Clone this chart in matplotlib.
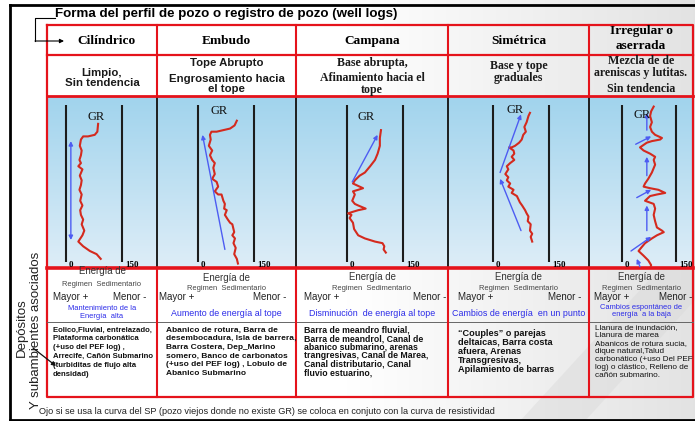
import numpy as np
import matplotlib
matplotlib.use("Agg")
import matplotlib.pyplot as plt
from matplotlib.patches import Polygon

W, H = 695, 421

# ---------------- data ----------------
TITLE = "Forma del perfil de pozo o registro de pozo (well logs)"
SHAPES = ["Cilíndrico", "Embudo", "Campana", "Simétrica", "Irregular o\naserrada"]
GR_MIN, GR_MAX = 0, 150

depth1 = [12, 17, 19, 20, 20, 22, 26, 29, 32, 35, 37, 39, 41, 45, 48, 51, 54, 57, 61, 64,
          67, 70, 73, 76, 80, 83, 87, 90, 93, 95, 98]
gr1 = [86, 84, 77, 59, 46, 40, 37, 42, 40, 36, 40, 33, 44, 37, 42, 40, 36, 42, 38, 44,
       38, 40, 46, 42, 49, 44, 33, 46, 64, 82, 93]

depth2 = [10, 13, 15, 16, 17, 17, 19, 22, 26, 29, 32, 35, 37, 40, 44, 47, 49, 52, 55, 57,
          57, 61, 63, 66, 67, 70, 73, 75, 76, 79, 81, 83, 85, 88, 91, 95, 98, 101]
gr2 = [104, 98, 86, 68, 50, 36, 32, 34, 29, 38, 32, 38, 45, 41, 45, 38, 50, 54, 45, 54,
       63, 68, 72, 70, 77, 72, 80, 86, 92, 95, 97, 92, 99, 95, 101, 97, 104, 107]

depth3 = [16, 21, 26, 31, 35, 39, 43, 45, 48, 50, 51, 53, 54, 55, 57, 61, 63, 64, 66, 67,
          68, 69, 70, 72, 75, 79, 83, 85, 87, 88, 90, 92, 94]
gr3 = [91, 88, 88, 82, 75, 62, 48, 34, 21, 16, 25, 43, 30, 16, 21, 14, 21, 30, 50, 30,
       16, 3, 12, 7, 16, 19, 30, 48, 75, 95, 100, 98, 104]

depth4 = [5, 7, 11, 14, 17, 19, 22, 24, 26, 27, 27, 29, 31, 33, 35, 37, 39, 41, 44, 46,
          48, 50, 52, 54, 56, 58, 62, 64, 67, 69, 71, 74, 76, 80, 82, 84, 87]
gr4 = [99, 95, 90, 84, 88, 81, 77, 70, 59, 50, 43, 55, 57, 50, 57, 46, 37, 41, 33, 41,
       37, 46, 41, 55, 50, 64, 72, 78, 86, 90, 95, 93, 101, 99, 105, 101, 105]

depth5 = [1, 4, 7, 11, 14, 17, 19, 21, 22, 23, 24, 27, 29, 31, 33, 35, 38, 43, 47, 50,
          52, 53, 54, 56, 57, 58, 61, 63, 66, 70, 74, 78, 80, 81, 83, 85, 88, 91, 93, 96,
          99, 102, 104]
gr5 = [88, 81, 78, 83, 78, 83, 92, 111, 106, 83, 69, 50, 60, 78, 92, 88, 92, 83, 73, 64,
       60, 78, 101, 120, 97, 78, 64, 88, 92, 88, 92, 97, 111, 116, 97, 83, 64, 53, 46, 60,
       73, 81, 78]

# blue trend arrows: (gr_tail, depth_tail, gr_head, depth_head)
arrows1 = [(13, 86, 13, 23)]
arrows2 = [(72, 92, 12, 19)]
arrows3 = [(14, 49, 82, 19)]
arrows4 = [(19, 43, 75, 6), (75, 80, 19, 47)]
arrows5 = [(69, 16, 69, 5), (38, 25, 81, 20), (69, 45, 69, 33), (41, 59, 81, 54),
           (69, 80, 69, 64), (25, 93, 81, 84), (50, 103, 41, 98)]

GR_LABEL_POS = [(80, 7.6), (56, 3.6), (50, 7.4), (59, 3.2), (55, 6.4)]

DESCR = [
    [("Limpio,\nSin tendencia", 78, "sans")],
    [("Tope Abrupto", 63, "sans"), ("Engrosamiento hacia\nel tope", 84, "sans")],
    [("Base abrupta,", 63, "serif"), ("Afinamiento hacia el\ntope", 84, "serif")],
    [("Base y tope\ngraduales", 72, "serif")],
    [("Mezcla de de\nareniscas y lutitas.", 67, "serif"), ("Sin tendencia", 89, "serif")],
]

ENERGY_CAPTIONS = ["Mantenimiento de la\nEnergía  alta", "Aumento de energía al tope",
                   "Disminución  de energía al tope", "Cambios de energía  en un punto",
                   "Cambios espontáneo de\nenergía  a la baja"]

DEPOSITS = [
    ["Eolico,Fluvial, entrelazado,", "Plataforma carbonática", "(+uso del PEF log) ,",
     "Arrecife, Cañón Submarino", "(turbiditas de flujo alta", "densidad)"],
    ["Abanico de rotura, Barra de", "desembocadura, Isla de barrera,",
     "Barra Costera, Dep_Marino", "somero, Banco de carbonatos",
     "(+uso del PEF log) , Lobulo de", "Abanico Submarino"],
    ["Barra de meandro fluvial,", "Barra de meandrol, Canal de",
     "abanico submarino, arenas", "trangresivas, Canal de Marea,",
     "Canal distributario, Canal", "fluvio estuarino,"],
    ["\u201cCouples\u201d o parejas", "deltaicas, Barra costa", "afuera, Arenas",
     "Transgresivas,", "Apilamiento de barras"],
    ["Llanura de inundación,", "Llanura de marea", "Abanicos de rotura sucia,",
     "dique natural,Talud", "carbonático (+uso Del PEF", "log) o clástico, Relleno de",
     "cañón submarino."],
]

FOOTER = ("Ojo si se usa la curva del SP (pozo viejos donde no existe GR) se coloca en "
          "conjuto con la curva de resistividad")

# ---------------- layout ----------------
COLS = [47, 157, 296, 448, 589, 693]
Y_TOP, Y_H1, Y_H2, Y_IMG, Y_MID, Y_BOT = 25, 55, 96, 268, 321.5, 397
TRACKS = [(66, 122), (198, 254), (347, 403), (493, 549), (622, 676)]
TRK_TOP, TRK_BOT = 105, 262

RED = "#e5131b"
SANS = ["Liberation Sans", "DejaVu Sans"]
SERIF = ["Liberation Serif", "DejaVu Serif"]

fig = plt.figure(figsize=(W / 100, H / 100), dpi=100)
ax = fig.add_axes([0, 0, 1, 1])
ax.set_xlim(0, W)
ax.set_ylim(H, 0)
ax.axis("off")

# page background: white fading to light grey on the right
g = np.linspace(0, 1, 400)
t = np.clip((g - 0.5) / 0.5, 0, 1)
v = 1 - 0.11 * t
ax.imshow(np.dstack([v, v, v]), extent=[0, W, H, 0], aspect="auto", zorder=0)
ax.add_patch(Polygon([(520, 421), (585, 421), (695, 300), (695, 230)], closed=True,
                     facecolor="#d9d9d9", edgecolor="none", alpha=0.45, zorder=0.5))

# blue gradient for the log row
gv = np.linspace(0, 1, 200)
top = np.array([0.63, 0.83, 0.93])
bot = np.array([0.87, 0.93, 0.97])
grad = top[None, None, :] * (1 - gv[:, None, None]) + bot[None, None, :] * gv[:, None, None]
ax.imshow(grad, extent=[COLS[0], COLS[-1], Y_IMG, Y_H2], aspect="auto", zorder=0.6)

# outer black frame
ax.plot([10, W], [5, 5], color="k", lw=2, zorder=3)
ax.plot([10, 10], [5, 420], color="k", lw=2, zorder=3)
ax.plot([10, W], [419.5, 419.5], color="k", lw=2, zorder=3)

# title + connector arrow
ax.text(55, 14, TITLE, fontsize=9.6, fontweight="bold", family=SANS, ha="left",
        va="center", zorder=4)
ax.plot([55, 35, 35], [18, 18, 41], color="k", lw=0.8, zorder=4)
ax.annotate("", xy=(64, 41), xytext=(35, 41),
            arrowprops=dict(arrowstyle="-|>", color="k", lw=0.8, mutation_scale=6,
                            shrinkA=0, shrinkB=0), zorder=4)

# table lines
ax.plot([COLS[0], COLS[-1], COLS[-1], COLS[0], COLS[0]],
        [Y_TOP, Y_TOP, Y_BOT, Y_BOT, Y_TOP], color=RED, lw=1.6, zorder=3)
ax.plot([COLS[0], COLS[-1]], [Y_H1, Y_H1], color=RED, lw=1.6, zorder=3)
ax.plot([COLS[0], COLS[-1]], [Y_H2, Y_H2], color=RED, lw=2.0, zorder=3)
ax.plot([COLS[0], COLS[-1]], [Y_IMG, Y_IMG], color=RED, lw=2.6, zorder=3)
ax.plot([COLS[0], COLS[-1]], [Y_MID, Y_MID], color="#666666", lw=0.7, zorder=3)
for xc in COLS[1:-1]:
    ax.plot([xc, xc], [Y_TOP, Y_H2], color=RED, lw=1.5, zorder=3)
    ax.plot([xc, xc], [Y_IMG, Y_BOT], color=RED, lw=1.5, zorder=3)
    ax.plot([xc, xc], [Y_H2, Y_IMG], color="#1e1e1e", lw=1.4, zorder=2)

centers = [(COLS[i] + COLS[i + 1]) / 2 for i in range(5)]

# header row
for i, name in enumerate(SHAPES):
    multi = "\n" in name
    ax.text(centers[i] + (4 if i == 0 else 0), 38.5 if multi else 41,
            name, fontsize=9.6, fontweight="bold", family=SERIF, ha="center",
            va="center", linespacing=1.25, zorder=4)

# description row
for i, blocks in enumerate(DESCR):
    for txt, yy, fam in blocks:
        if fam == "sans":
            ax.text(centers[i], yy, txt, fontsize=8.2, fontweight="bold", family=SANS,
                    color="#1a1a1a", ha="center", va="center", linespacing=0.95, zorder=4)
        else:
            ax.text(centers[i], yy, txt, fontsize=8.6, fontweight="bold", family=SERIF,
                    color="#1a1a1a", ha="center", va="center", linespacing=0.9, zorder=4)

# energy row
e1_y = [271, 278, 277, 277, 277]
e2_y = [285, 288, 288, 288, 288]
mm_y = [296.5, 297, 297, 297, 297]
cap_y = [312.5, 313, 313, 313, 311]
lpad = [6, 2, 8, 10, 5]
rpad = [11, 10, 2, 8, 1]
for i in range(5):
    cl, cr = COLS[i], COLS[i + 1]
    ax.text(centers[i], e1_y[i], "Energía de", fontsize=6.9, family=SANS, color="#333333",
            ha="center", va="center", zorder=4)
    ax.text(centers[i], e2_y[i], "Regimen  Sedimentario", fontsize=5.4, family=SANS,
            color="#444444", ha="center", va="center", zorder=4)
    ax.text(cl + lpad[i], mm_y[i], "Mayor +", fontsize=7, family=SANS, color="#222222",
            ha="left", va="center", zorder=4)
    ax.text(cr - rpad[i], mm_y[i], "Menor -", fontsize=7, family=SANS, color="#222222",
            ha="right", va="center", zorder=4)
    small = "\n" in ENERGY_CAPTIONS[i]
    ax.text(centers[i], cap_y[i], ENERGY_CAPTIONS[i], fontsize=5.4 if small else 6.4,
            family=SANS, color="#2a2ae8", ha="center", va="center", linespacing=1.15,
            zorder=4)

# deposits row
dep_x = [53, 166, 304, 458, 595]
dep_y = [330, 330, 330, 333, 327.5]
dep_dy = [8.8, 8.7, 8.6, 9.2, 8.0]
dep_fs = [5.6, 6.0, 6.3, 6.6, 5.9]
dep_w = ["bold", "bold", "bold", "bold", "normal"]
for i, lines in enumerate(DEPOSITS):
    for j, line in enumerate(lines):
        ax.text(dep_x[i], dep_y[i] + j * dep_dy[i], line, fontsize=dep_fs[i],
                fontweight=dep_w[i], family=SANS, color="#111111", ha="left",
                va="center", zorder=4)

# side labels
ax.text(22, 328, "Depósitos", rotation=90, fontsize=9.5, family=SANS, color="#222222",
        ha="center", va="center", zorder=4)
ax.text(36.5, 330, "Y subambientes asociados", rotation=90, fontsize=9.5, family=SANS,
        color="#222222", ha="center", va="center", zorder=4)
ax.annotate("", xy=(56, 366), xytext=(33, 348),
            arrowprops=dict(arrowstyle="-|>", color="#111111", lw=0.9, mutation_scale=6,
                            shrinkA=0, shrinkB=0), zorder=5)

# footer
ax.text(39, 412, FOOTER, fontsize=6.6, family=SANS, color="#222222", ha="left",
        va="center", zorder=4)

# ---------------- well-log panels ----------------
curves = [(depth1, gr1), (depth2, gr2), (depth3, gr3), (depth4, gr4), (depth5, gr5)]
arrow_sets = [arrows1, arrows2, arrows3, arrows4, arrows5]
ct, cb = Y_H2 + 1.5, Y_IMG - 1.5
s = (TRK_BOT - TRK_TOP) / 100.0
for i in range(5):
    cl, cr = COLS[i] + 1, COLS[i + 1] - 1
    x0, x150 = TRACKS[i]
    k = (x150 - x0) / (GR_MAX - GR_MIN)
    pax = fig.add_axes([cl / W, 1 - cb / H, (cr - cl) / W, (cb - ct) / H])
    pax.set_facecolor("none")
    pax.axis("off")
    pax.set_xlim((cl - x0) / k, (cr - x0) / k)
    pax.set_ylim((cb - TRK_TOP) / s, (ct - TRK_TOP) / s)
    for gv_ in (GR_MIN, GR_MAX):
        pax.plot([gv_, gv_], [0, 100], color="#1c1c1c", lw=1.5, solid_capstyle="butt")
    d, gr = curves[i]
    pax.plot(gr, d, color="#d42a1e", lw=1.5, solid_joinstyle="round", zorder=3)
    for (gt, dt, gh, dh) in arrow_sets[i]:
        style = "<|-|>" if i == 0 else "-|>"
        pax.annotate("", xy=(gh, dh), xytext=(gt, dt),
                     arrowprops=dict(arrowstyle=style, color="#4d5cf2", lw=1.0,
                                     mutation_scale=6, shrinkA=0, shrinkB=0), zorder=4)
    gx, gy = GR_LABEL_POS[i]
    pax.text(gx, gy, "GR", fontsize=9, family=SERIF, color="#111111", ha="center",
             va="center", zorder=5)
    pax.annotate(str(GR_MIN), (GR_MIN, 102), xytext=(2, 0), textcoords="offset points",
                 fontsize=6.5, fontweight="bold", family=SERIF, ha="left", va="center")
    pax.annotate(str(GR_MAX), (GR_MAX, 102), xytext=(2, 0), textcoords="offset points",
                 fontsize=6.5, fontweight="bold", family=SERIF, ha="left", va="center")

fig.savefig("out.png", dpi=100)
